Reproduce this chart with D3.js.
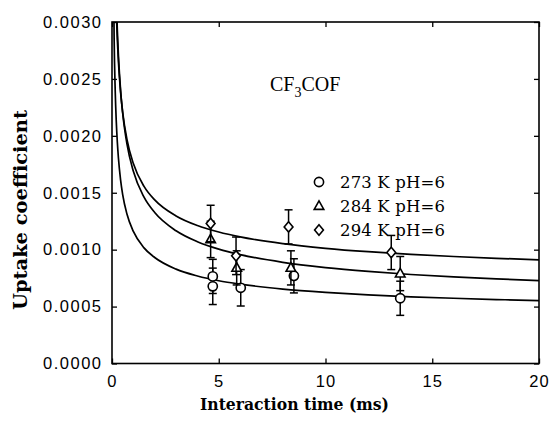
<!DOCTYPE html>
<html><head><meta charset="utf-8">
<script src="https://cdn.jsdelivr.net/npm/d3@7"></script>
<style>
body{margin:0;background:#fff;}
svg{display:block;}
</style></head>
<body>
<svg id="chart" width="549" height="423"></svg>
<script>
// ---- data ----
const xTicks = [0, 5, 10, 15, 20];
const yTicks = [0, 0.0005, 0.0010, 0.0015, 0.0020, 0.0025, 0.0030];

// fitted curves (time in ms, uptake coefficient)
const curveT = [0.05, 0.1, 0.15, 0.2, 0.25, 0.3, 0.4, 0.5, 0.7, 1, 1.5, 2, 3, 4, 5, 6, 8, 10, 12, 14, 16, 18, 20];
const curve273 = [0.00388, 0.002853, 0.002399, 0.002128, 0.001943, 0.001807, 0.001615, 0.001484, 0.001313, 0.00116, 0.001016, 0.000931, 0.000829, 0.000769, 0.000727, 0.000697, 0.000654, 0.000625, 0.000603, 0.000586, 0.000573, 0.000562, 0.000552];
const curve284 = [0.0058, 0.00436, 0.003643, 0.003216, 0.002924, 0.002709, 0.002406, 0.0022, 0.001929, 0.001688, 0.001461, 0.001326, 0.001166, 0.00107, 0.001005, 0.000957, 0.000889, 0.000843, 0.000809, 0.000782, 0.000761, 0.000743, 0.000728];
const curve294 = [0.00553, 0.004108, 0.003477, 0.003101, 0.002844, 0.002655, 0.002388, 0.002207, 0.001968, 0.001756, 0.001556, 0.001437, 0.001296, 0.001212, 0.001155, 0.001112, 0.001053, 0.001012, 0.000982, 0.000959, 0.00094, 0.000924, 0.000911];

// measured points
const x273 = [4.72, 4.72, 6.03, 8.52, 13.5];
const y273 = [0.000765, 0.000678, 0.000665, 0.00077, 0.000573];
const e273 = [0.00015, 0.00016, 0.00016, 0.00015, 0.00015];
const x284 = [4.62, 5.84, 8.38, 13.5];
const y284 = [0.00109, 0.00084, 0.00084, 0.00079];
const e284 = [0.00016, 0.00015, 0.00015, 0.00015];
const x294 = [4.62, 5.81, 8.27, 13.08];
const y294 = [0.00123, 0.000946, 0.0012, 0.000975];
const e294 = [0.00016, 0.000165, 0.00015, 0.00015];

const legendLabels = ["273 K pH=6", "284 K pH=6", "294 K pH=6"];
const xTitle = "Interaction time (ms)";
const yTitle = "Uptake coefficient";

// ---- layout ----
const L = 112, R = 539, T = 22, B = 363.5;
const svg = d3.select("#chart");
const x = d3.scaleLinear().domain([0, 20]).range([L, R]);
const y = d3.scaleLinear().domain([0, 0.003]).range([B, T]);

svg.append("defs").append("clipPath").attr("id", "clip")
  .append("rect").attr("x", L).attr("y", T).attr("width", R - L).attr("height", B - T);

const tickFont = "'Liberation Sans', Arial, sans-serif";
const serif = "'DejaVu Serif', serif";

// axes
const gx = svg.append("g").attr("transform", `translate(0,${B})`)
  .call(d3.axisBottom(x).tickValues(xTicks).tickSizeInner(-5).tickSizeOuter(0).tickPadding(12).tickFormat(d3.format("d")));
const gy = svg.append("g").attr("transform", `translate(${L},0)`)
  .call(d3.axisLeft(y).tickValues(yTicks).tickSizeInner(-5).tickSizeOuter(0).tickPadding(11).tickFormat(d3.format(".4f")));
const gt = svg.append("g").attr("transform", `translate(0,${T})`)
  .call(d3.axisTop(x).tickValues(xTicks).tickSizeInner(-5).tickSizeOuter(0).tickFormat(""));
const gr = svg.append("g").attr("transform", `translate(${R},0)`)
  .call(d3.axisRight(y).tickValues(yTicks).tickSizeInner(-5).tickSizeOuter(0).tickFormat(""));
[gx, gy, gt, gr].forEach(g => {
  g.select(".domain").remove();
  g.selectAll("line").attr("stroke", "#000").attr("stroke-width", 1.3);
  g.selectAll("text").attr("font-family", tickFont).attr("font-size", 16.5).attr("fill", "#000");
});
gx.selectAll("text").attr("dy", "0.71em").attr("letter-spacing", 1.2);
gy.selectAll("text").attr("textLength", 58).attr("lengthAdjust", "spacing");

// frame
svg.append("rect").attr("x", L).attr("y", T).attr("width", R - L).attr("height", B - T)
  .attr("fill", "none").attr("stroke", "#000").attr("stroke-width", 1.6);

// curves
const line = d3.line().x(d => x(d[0])).y(d => y(d[1])).curve(d3.curveMonotoneX);
const plot = svg.append("g").attr("clip-path", "url(#clip)");
[curve273, curve284, curve294].forEach(c => {
  plot.append("path").datum(curveT.map((t, i) => [t, c[i]]))
    .attr("d", line).attr("fill", "none").attr("stroke", "#000").attr("stroke-width", 1.7);
});

// markers
const sym = {
  circle: (cx, cy) => svg.append("circle").attr("cx", cx).attr("cy", cy).attr("r", 4.6),
  triangle: (cx, cy) => svg.append("path").attr("d", `M${cx},${cy - 5.2}L${cx + 4.8},${cy + 3.4}L${cx - 4.8},${cy + 3.4}Z`),
  diamond: (cx, cy) => svg.append("path").attr("d", `M${cx},${cy - 5.2}L${cx + 4.4},${cy}L${cx},${cy + 5.2}L${cx - 4.4},${cy}Z`)
};
function series(xs, ys, es, shape) {
  xs.forEach((xv, i) => {
    const px = x(xv), lo = y(ys[i] - es[i]), hi = y(ys[i] + es[i]);
    const g = svg.append("g").attr("stroke", "#000").attr("stroke-width", 1.5);
    g.append("line").attr("x1", px).attr("x2", px).attr("y1", lo).attr("y2", hi);
    g.append("line").attr("x1", px - 4).attr("x2", px + 4).attr("y1", lo).attr("y2", lo);
    g.append("line").attr("x1", px - 4).attr("x2", px + 4).attr("y1", hi).attr("y2", hi);
  });
  xs.forEach((xv, i) => {
    sym[shape](x(xv), y(ys[i])).attr("fill", "#fff").attr("stroke", "#000").attr("stroke-width", 1.6);
  });
}
series(x273, y273, e273, "circle");
series(x284, y284, e284, "triangle");
series(x294, y294, e294, "diamond");

// legend
const shapes = ["circle", "triangle", "diamond"];
legendLabels.forEach((lab, i) => {
  const ly = 182 + i * 24;
  sym[shapes[i]](319, ly).attr("fill", "#fff").attr("stroke", "#000").attr("stroke-width", 1.6);
  svg.append("text").attr("x", 340).attr("y", ly + 6).attr("font-family", serif)
    .attr("font-size", 16.5).attr("fill", "#000").attr("textLength", 105).attr("lengthAdjust", "spacing").text(lab);
});

// compound label
const title = svg.append("text").attr("x", 270).attr("y", 91).attr("font-family", "'Liberation Serif', serif")
  .attr("font-size", 20).attr("fill", "#000");
title.append("tspan").text("CF");
title.append("tspan").attr("dy", 6).attr("font-size", 14).text("3");
title.append("tspan").attr("dy", -6).text("COF");

// axis titles
svg.append("text").attr("x", 200).attr("y", 410)
  .attr("font-family", serif).attr("font-weight", "bold").attr("font-size", 17.5).attr("fill", "#000")
  .attr("textLength", 189).attr("lengthAdjust", "spacingAndGlyphs").text(xTitle);
svg.append("text").attr("transform", `translate(27,310) rotate(-90)`)
  .attr("font-family", serif).attr("font-weight", "bold").attr("font-size", 18).attr("fill", "#000")
  .attr("textLength", 200).attr("lengthAdjust", "spacingAndGlyphs").text(yTitle);
</script>
</body></html>
